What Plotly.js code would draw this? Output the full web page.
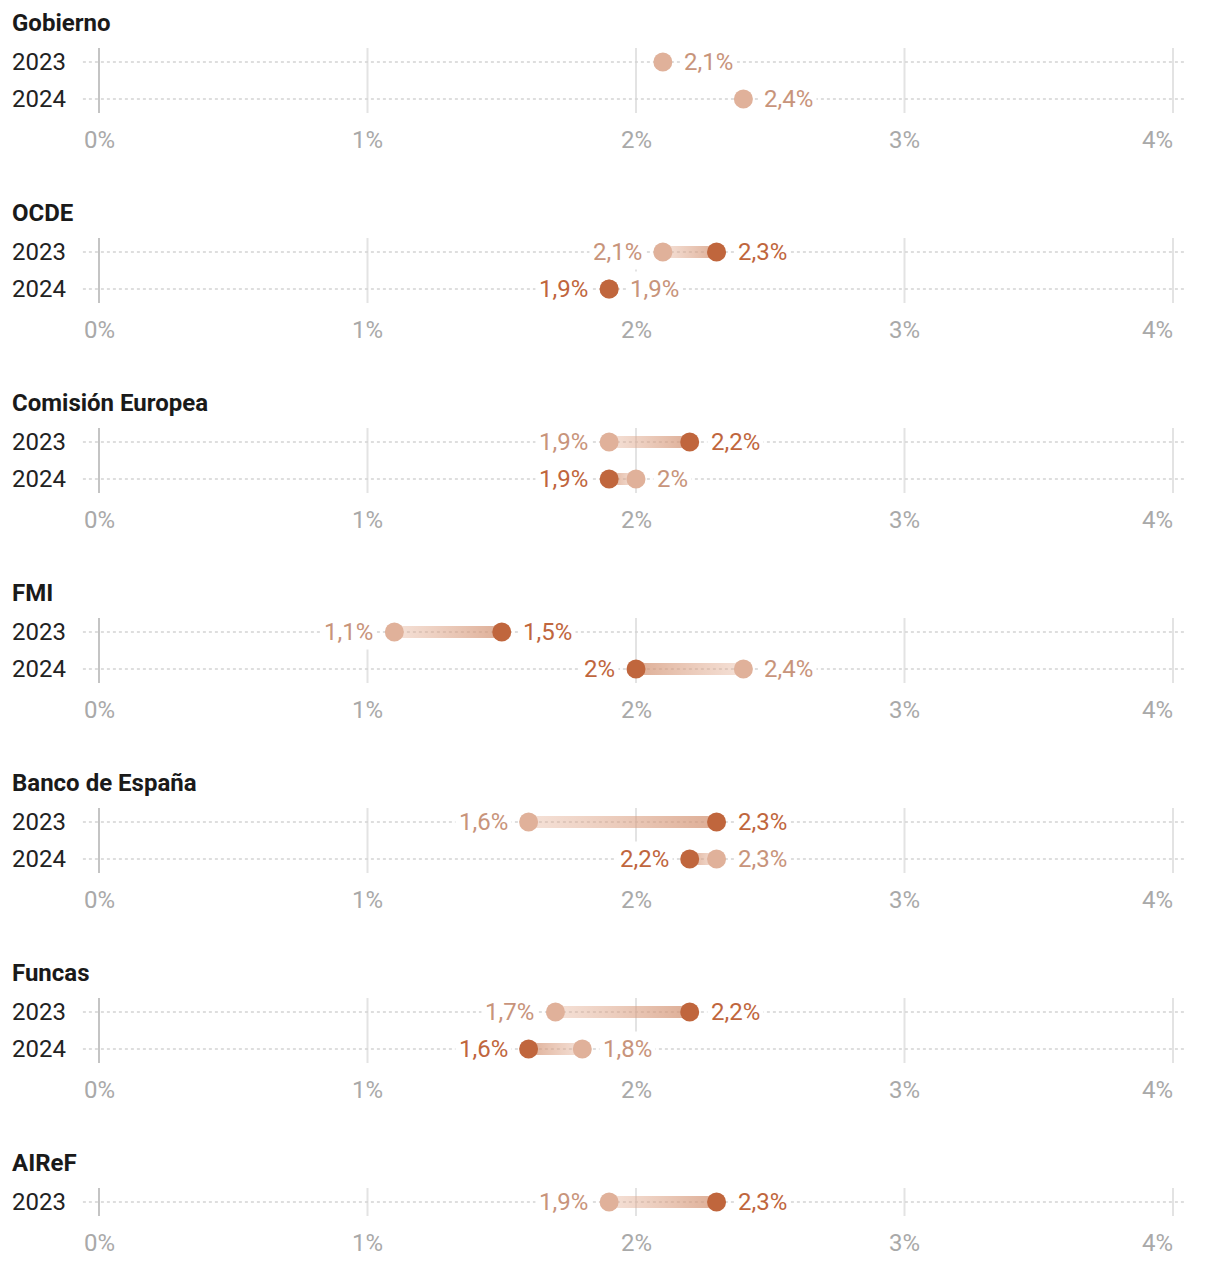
<!DOCTYPE html>
<html>
<head>
<meta charset="utf-8">
<script src="https://cdn.plot.ly/plotly-3.0.1.min.js"></script>
<style>
html,body{margin:0;padding:0;background:#fff;}
#chart{width:1220px;height:1262px;}
</style>
</head>
<body>
<div id="chart"></div>
<script>
// ---- DATA ----
const institutions = ['Gobierno', 'OCDE', 'Comisión Europea', 'FMI', 'Banco de España', 'Funcas', 'AIReF'];
const years = ['2023', '2024'];
// previous forecast (light) and new forecast (dark), % GDP growth
const prev2023 = [2.1, 2.1, 1.9, 1.1, 1.6, 1.7, 1.9];
const new2023  = [null, 2.3, 2.2, 1.5, 2.3, 2.2, 2.3];
const prev2024 = [2.4, 1.9, 2.0, 2.4, 2.3, 1.8, null];
const new2024  = [null, 1.9, 1.9, 2.0, 2.2, 1.6, null];
const tickVals = [0, 1, 2, 3, 4];
const tickText = ['0%', '1%', '2%', '3%', '4%'];

// ---- STYLE ----
const DARK = '#c0663d';
const LIGHT = '#e0b19a';
const LIGHT_TXT = '#c8947b';
const FONT = 'Roboto, "Noto Sans", sans-serif';
const FS = 24;
const W = 1220, H = 1262;
const X0PX = 99, UNITPX = 268.5;
const PANEL_TOP = 23, PANEL_STEP = 190, ROW1 = 39, ROW_STEP = 37, TICK_GAP = 41;
const BAR_HALF = 6;

function fmt(v) {
  return (Number.isInteger(v) ? String(v) : v.toFixed(1).replace('.', ',')) + '%';
}

const traces = [];
const shapes = [];
const annotations = [];
const prevX = [], prevY = [], newX = [], newY = [];

institutions.forEach((name, i) => {
  const top = PANEL_TOP + PANEL_STEP * i;
  annotations.push({xref: 'paper', x: 10 / W, xanchor: 'left', yref: 'y', y: top, yanchor: 'middle',
    text: '<b>' + name + '</b>', showarrow: false, font: {family: FONT, size: FS, color: '#1a1a1a', weight: 700}});
  const rows = [[prev2023[i], new2023[i]], [prev2024[i], new2024[i]]];
  const used = rows.map((r, k) => ({r, k})).filter(o => o.r[0] !== null || o.r[1] !== null);
  const firstY = top + ROW1;
  const lastY = top + ROW1 + ROW_STEP * (used.length - 1);
  // vertical gridlines
  tickVals.forEach((t, ti) => {
    shapes.push({type: 'line', xref: 'x', yref: 'y', x0: t, x1: t, y0: firstY - 14, y1: lastY + 14,
      line: {color: t === 0 ? '#c4c4c4' : '#e3e3e3', width: 2}, layer: 'below'});
    annotations.push({xref: 'x', x: t, xanchor: ti === tickVals.length - 1 ? 'right' : 'center',
      xshift: ti === tickVals.length - 1 ? 2 : 0,
      yref: 'y', y: lastY + TICK_GAP, yanchor: 'middle', text: tickText[ti], showarrow: false,
      font: {family: FONT, size: FS, color: '#a9a9a9'}});
  });
  used.forEach((o, j) => {
    const y = firstY + ROW_STEP * j;
    const [p, n] = o.r;
    annotations.push({xref: 'paper', x: 10 / W, xanchor: 'left', yref: 'y', y: y, yanchor: 'middle',
      text: years[o.k], showarrow: false, font: {family: FONT, size: FS, color: '#222'}});
    shapes.push({type: 'line', xref: 'x', yref: 'y', x0: -0.06, x1: 4.05, y0: y, y1: y,
      line: {color: '#d4d4d4', width: 1.3, dash: 'dot'}, layer: 'below'});
    if (p !== null && n !== null && p !== n) {
      const lo = Math.min(p, n), hi = Math.max(p, n);
      const cLight = 'rgba(228,176,150,0.38)', cDark = 'rgba(210,146,114,0.75)';
      traces.push({type: 'scatter', mode: 'lines', x: [lo, hi, hi, lo, lo],
        y: [y - BAR_HALF, y - BAR_HALF, y + BAR_HALF, y + BAR_HALF, y - BAR_HALF],
        fill: 'toself', line: {width: 0}, hoverinfo: 'skip', showlegend: false,
        fillgradient: {type: 'horizontal', colorscale: n > p ? [[0, cLight], [1, cDark]] : [[0, cDark], [1, cLight]]}});
    }
    if (p !== null) { prevX.push(p); prevY.push(y); }
    if (n !== null) { newX.push(n); newY.push(y); }
    // labels
    const lab = (v, side, color) => annotations.push({xref: 'x', x: v, xanchor: side === 'left' ? 'right' : 'left',
      xshift: side === 'left' ? -17 : 17, yref: 'y', y: y, yanchor: 'middle', text: fmt(v), showarrow: false,
      bgcolor: '#ffffff', borderpad: 3,
      font: {family: FONT, size: FS, color: color}});
    if (n === null) {
      lab(p, 'right', LIGHT_TXT);
    } else if (p === null) {
      lab(n, 'right', DARK);
    } else if (n > p) {
      lab(p, 'left', LIGHT_TXT); lab(n, 'right', DARK);
    } else {
      lab(n, 'left', DARK); lab(p, 'right', LIGHT_TXT);
    }
  });
});

traces.push({type: 'scatter', mode: 'markers', x: prevX, y: prevY, marker: {size: 19, color: LIGHT}, hoverinfo: 'skip', showlegend: false});
traces.push({type: 'scatter', mode: 'markers', x: newX, y: newY, marker: {size: 19, color: DARK}, hoverinfo: 'skip', showlegend: false});

const layout = {
  width: W, height: H,
  margin: {l: 0, r: 0, t: 0, b: 0},
  paper_bgcolor: '#fff', plot_bgcolor: '#fff',
  xaxis: {range: [-X0PX / UNITPX, (W - X0PX) / UNITPX], visible: false, fixedrange: true},
  yaxis: {range: [H, 0], visible: false, fixedrange: true},
  shapes: shapes,
  annotations: annotations,
  showlegend: false,
  font: {family: FONT}
};
Plotly.newPlot('chart', traces, layout, {staticPlot: true, displayModeBar: false});
</script>
</body>
</html>
